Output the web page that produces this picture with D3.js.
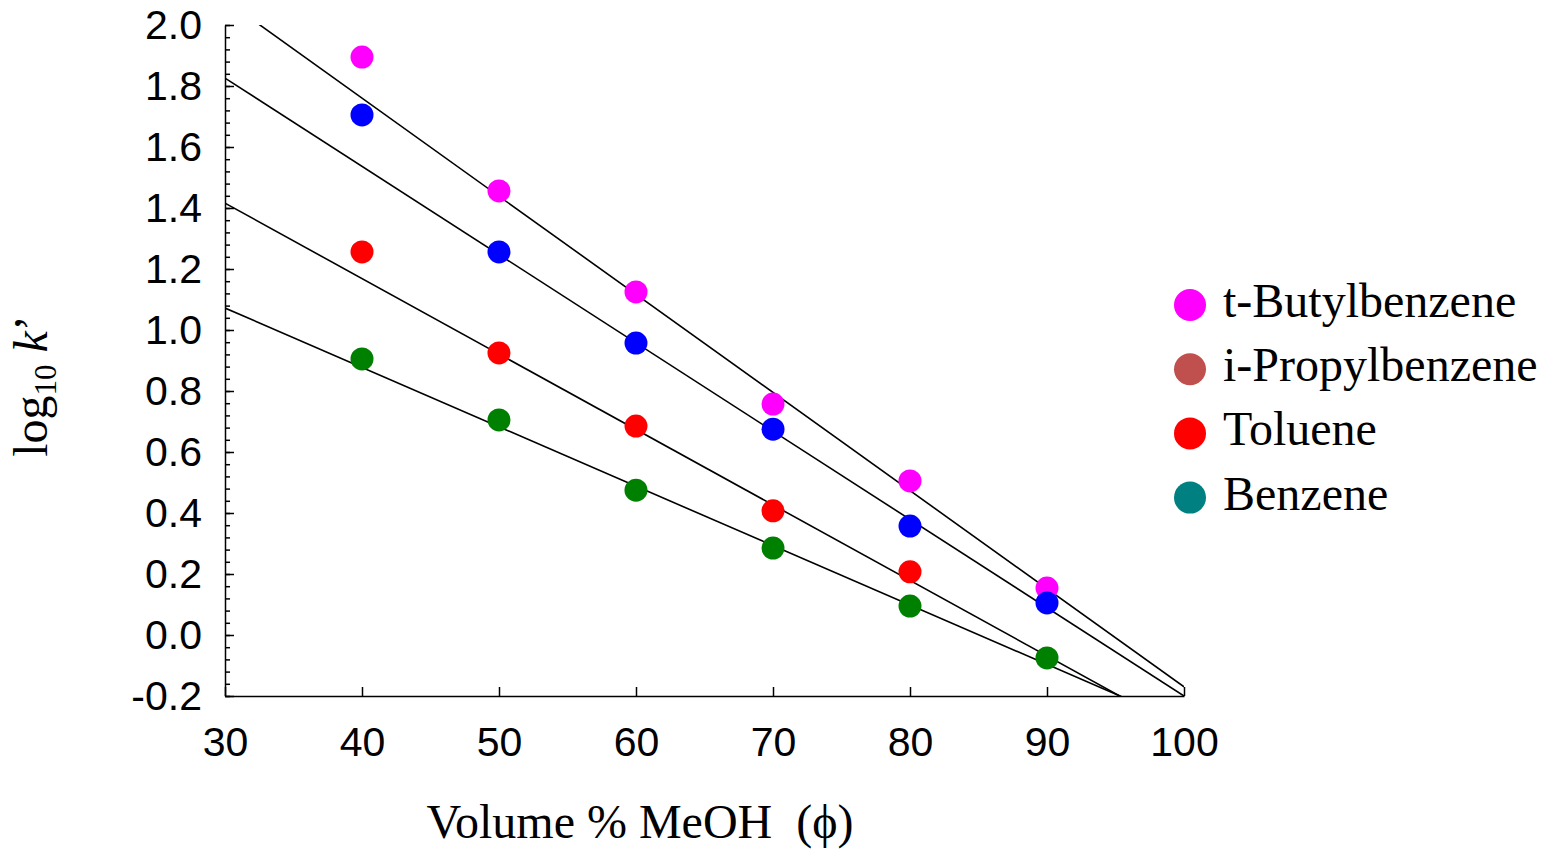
<!DOCTYPE html>
<html>
<head>
<meta charset="utf-8">
<script src="https://cdn.jsdelivr.net/npm/d3@7"></script>
<style>
  html, body { margin: 0; padding: 0; background: #fff; }
  svg { display: block; }
  .tick text { font-family: "Liberation Sans", Arial, sans-serif; font-size: 41px; fill: #000; }
  .serif { font-family: "Liberation Serif", "Times New Roman", serif; fill: #000; }
</style>
</head>
<body>
<svg id="chart" width="1549" height="854"></svg>
<script>
// --- data ---
const seriesNames = ["t-Butylbenzene", "i-Propylbenzene", "Toluene", "Benzene"];
const legendColors = ["#ff00ff", "#c0504d", "#ff0000", "#008080"];
const pointColors = ["#ff00ff", "#0000ff", "#ff0000", "#008000"];

const phi = [40, 50, 60, 70, 80, 90];
const tButyl  = [1.895, 1.456, 1.125, 0.757, 0.505, 0.154];
const iPropyl = [1.705, 1.256, 0.957, 0.675, 0.357, 0.105];
const toluene = [1.256, 0.925, 0.685, 0.407, 0.207, null];
const benzene = [0.905, 0.705, 0.475, 0.285, 0.095, -0.075];

// fitted lines, as [phi, log k'] end points (clipped to the plot box)
const fitLines = [
  [[30, 2.082], [100, -0.170]],
  [[30, 1.826], [100, -0.200]],
  [[30, 1.416], [100, -0.316]],
  [[30, 1.072], [100, -0.291]]
];

const xTicks = [30, 40, 50, 60, 70, 80, 90, 100];
const yTicks = [-0.2, 0.0, 0.2, 0.4, 0.6, 0.8, 1.0, 1.2, 1.4, 1.6, 1.8, 2.0];
const yMinorTicks = d3.range(0, 56).map(i => -0.2 + i * 0.04);

const values = [tButyl, iPropyl, toluene, benzene];

// --- layout ---
const svg = d3.select("#chart");
const margin = { left: 225, top: 25, right: 1549 - 1184, bottom: 854 - 696 };
const W = 1549 - margin.left - margin.right;
const H = 854 - margin.top - margin.bottom;

const x = d3.scaleLinear().domain([30, 100]).range([0, W]);
const y = d3.scaleLinear().domain([-0.2, 2.0]).range([H, 0]);

const g = svg.append("g").attr("transform", `translate(${margin.left},${margin.top})`);

g.append("clipPath").attr("id", "plotClip")
  .append("rect").attr("x", 0).attr("y", 0).attr("width", W).attr("height", H);

// minor y ticks
g.append("g")
  .call(d3.axisLeft(y).tickValues(yMinorTicks).tickSizeInner(-5).tickSizeOuter(0).tickFormat(""))
  .call(a => a.select(".domain").remove())
  .call(a => a.selectAll("line").attr("stroke", "#000").attr("stroke-width", 1.5));

// major y axis
g.append("g")
  .call(d3.axisLeft(y).tickValues(yTicks).tickSizeInner(-9).tickSizeOuter(0).tickPadding(23)
    .tickFormat(d => d.toFixed(1)))
  .call(a => a.select(".domain").attr("stroke", "#000").attr("stroke-width", 1.5))
  .call(a => a.selectAll("line").attr("stroke", "#000").attr("stroke-width", 1.5))
  .call(a => a.selectAll("text").attr("font-family", null).attr("font-size", null));

// x axis
g.append("g")
  .attr("transform", `translate(0,${H})`)
  .call(d3.axisBottom(x).tickValues(xTicks).tickSizeInner(-9).tickSizeOuter(0).tickPadding(31)
    .tickFormat(d3.format("d")))
  .call(a => a.select(".domain").attr("stroke", "#000").attr("stroke-width", 1.5))
  .call(a => a.selectAll("line").attr("stroke", "#000").attr("stroke-width", 1.5))
  .call(a => a.selectAll("text").attr("font-family", null).attr("font-size", null));

// fitted lines
const line = d3.line().x(d => x(d[0])).y(d => y(d[1]));
g.append("g").attr("clip-path", "url(#plotClip)")
  .selectAll("path")
  .data(fitLines)
  .join("path")
  .attr("d", line)
  .attr("fill", "none")
  .attr("stroke", "#000")
  .attr("stroke-width", 1.6);

// points
values.forEach((vals, si) => {
  g.append("g")
    .selectAll("circle")
    .data(phi.map((p, i) => [p, vals[i]]).filter(d => d[1] !== null))
    .join("circle")
    .attr("cx", d => x(d[0]))
    .attr("cy", d => y(d[1]))
    .attr("r", 11.5)
    .attr("fill", pointColors[si]);
});

// axis titles
svg.append("text")
  .attr("class", "serif")
  .attr("x", 640).attr("y", 838)
  .attr("text-anchor", "middle")
  .attr("font-size", 48)
  .attr("xml:space", "preserve")
  .text("Volume % MeOH  (\u03d5)");

const yl = svg.append("text")
  .attr("class", "serif")
  .attr("transform", "translate(47,386) rotate(-90)")
  .attr("text-anchor", "middle")
  .attr("font-size", 48);
yl.append("tspan").text("log");
yl.append("tspan").attr("font-size", 31).attr("dy", 9).text("10");
yl.append("tspan").attr("dy", -9).text(" ");
yl.append("tspan").attr("font-style", "italic").text("k");
yl.append("tspan").text("\u2019");

// legend
const legend = svg.append("g").attr("transform", "translate(1190,305)");
const rows = legend.selectAll("g")
  .data(seriesNames)
  .join("g")
  .attr("transform", (d, i) => `translate(0,${i * 64.2})`);
rows.append("circle").attr("r", 16).attr("fill", (d, i) => legendColors[i]);
rows.append("text")
  .attr("class", "serif")
  .attr("x", 33).attr("y", 12)
  .attr("font-size", 48)
  .text(d => d);
</script>
</body>
</html>
